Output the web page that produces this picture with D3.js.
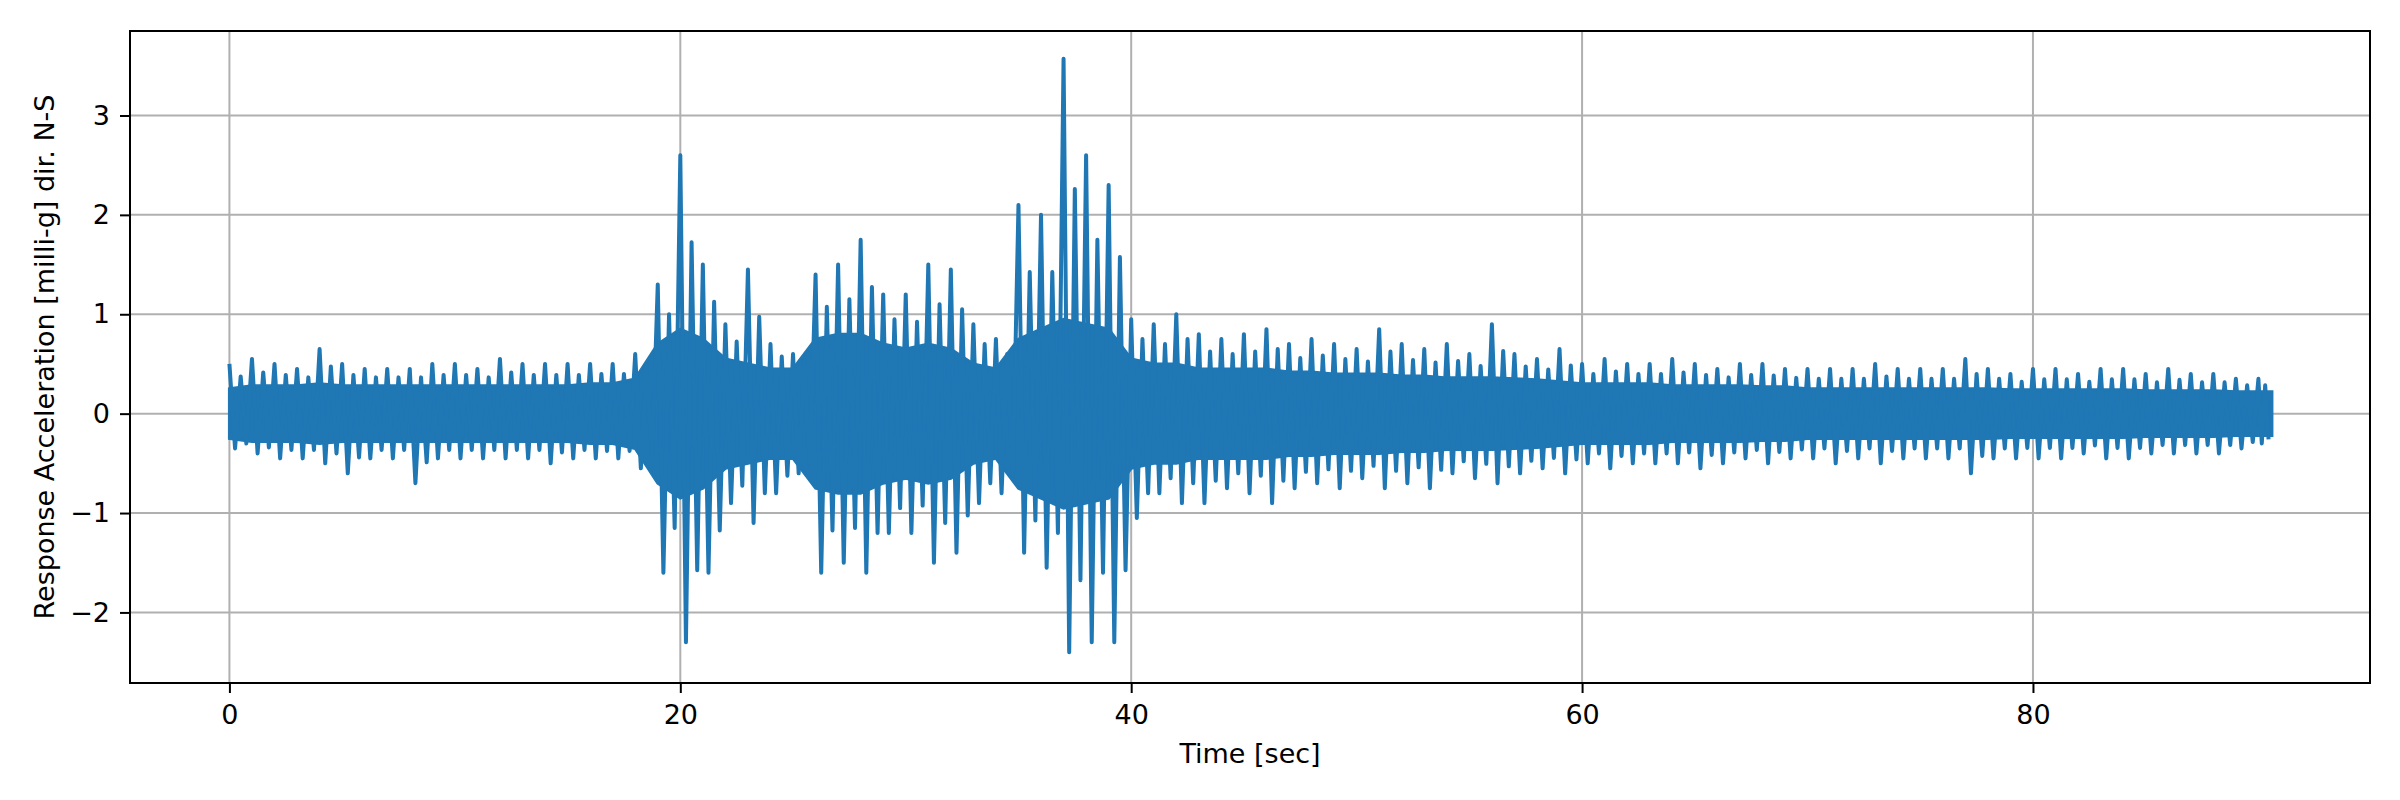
<!DOCTYPE html>
<html>
<head>
<meta charset="utf-8">
<script src="https://cdn.jsdelivr.net/npm/d3@7"></script>
<style>
  body { margin: 0; background: #fff; }
  text { font-family: "DejaVu Sans", sans-serif; }
</style>
</head>
<body>
<div id="chart"></div>
<script>
// per-second peak values (milli-g)
const seconds = d3.range(0, 91);
const peakHigh = [0.5,0.55,0.5,0.45,0.65,0.5,0.45,0.45,0.45,0.5,0.5,0.45,0.55,0.5,0.5,0.5,0.5,0.5,0.6,1.3,
  2.6,1.5,0.9,1.45,0.7,0.6,1.4,1.5,1.75,1.2,1.2,1.5,1.45,0.9,0.75,2.1,2.0,3.57,2.6,2.3,
  0.95,0.9,1.0,0.8,0.75,0.8,0.85,0.7,0.75,0.7,0.65,0.85,0.7,0.65,0.7,0.6,0.9,0.6,0.55,0.65,
  0.5,0.55,0.5,0.5,0.55,0.5,0.45,0.5,0.5,0.45,0.45,0.45,0.45,0.5,0.45,0.45,0.45,0.55,0.45,0.4,
  0.45,0.45,0.4,0.45,0.45,0.4,0.45,0.4,0.4,0.35,0.35];
const peakLow = [-0.35,-0.4,-0.45,-0.45,-0.5,-0.6,-0.45,-0.45,-0.7,-0.45,-0.45,-0.45,-0.45,-0.45,-0.5,-0.45,-0.45,-0.45,-0.55,-1.6,
  -2.3,-1.6,-0.9,-1.1,-0.8,-0.6,-1.6,-1.5,-1.6,-1.2,-1.2,-1.5,-1.4,-0.9,-0.8,-1.4,-1.55,-2.4,-2.3,-2.3,
  -1.05,-0.8,-0.9,-0.9,-0.75,-0.8,-0.9,-0.75,-0.7,-0.75,-0.65,-0.75,-0.7,-0.75,-0.6,-0.65,-0.7,-0.6,-0.55,-0.6,
  -0.5,-0.55,-0.5,-0.5,-0.5,-0.55,-0.5,-0.45,-0.5,-0.45,-0.45,-0.5,-0.45,-0.5,-0.45,-0.45,-0.45,-0.6,-0.45,-0.45,
  -0.45,-0.45,-0.4,-0.45,-0.45,-0.4,-0.4,-0.4,-0.4,-0.35,-0.3];
// half-width of the solid dense band, per second
const coreBand = [0.25,0.28,0.28,0.28,0.3,0.28,0.28,0.28,0.28,0.28,0.28,0.28,0.28,0.28,0.28,0.28,0.3,0.3,0.35,0.7,
  0.85,0.75,0.55,0.5,0.45,0.45,0.75,0.8,0.8,0.7,0.65,0.7,0.65,0.5,0.45,0.75,0.85,0.95,0.9,0.85,
  0.55,0.5,0.5,0.45,0.45,0.45,0.45,0.42,0.42,0.4,0.4,0.4,0.38,0.38,0.36,0.36,0.36,0.35,0.34,0.32,
  0.3,0.3,0.3,0.3,0.28,0.28,0.28,0.28,0.27,0.27,0.25,0.25,0.25,0.25,0.25,0.25,0.25,0.25,0.25,0.24,
  0.24,0.24,0.24,0.24,0.24,0.23,0.23,0.23,0.23,0.22,0.22];
const xTicks = [0, 20, 40, 60, 80];
const yTicks = [-2, -1, 0, 1, 2, 3];

const margin = {top: 31, right: 30, bottom: 117, left: 130},
    width = 2400 - margin.left - margin.right,
    height = 800 - margin.top - margin.bottom;

const x = d3.scaleLinear().domain([-4.41, 94.95]).range([0, width]);
const y = d3.scaleLinear().domain([-2.71, 3.85]).range([height, 0]);

const svg = d3.select("#chart").append("svg")
    .attr("width", 2400).attr("height", 800)
    .append("g").attr("transform", "translate(" + margin.left + "," + margin.top + ")");

// grid
svg.selectAll(".gx").data(xTicks).enter().append("line")
    .attr("x1", d => x(d)).attr("x2", d => x(d)).attr("y1", 0).attr("y2", height)
    .attr("stroke", "#b0b0b0").attr("stroke-width", 2);
svg.selectAll(".gy").data(yTicks).enter().append("line")
    .attr("y1", d => y(d)).attr("y2", d => y(d)).attr("x1", 0).attr("x2", width)
    .attr("stroke", "#b0b0b0").attr("stroke-width", 2);

// dense core of the record
const endT = 90.6;
const coreData = seconds.map((s, i) => [Math.min(s, endT), coreBand[i]]);
coreData.push([endT, coreBand[90]]);
svg.append("path").datum(coreData)
    .attr("fill", "#1f77b4").attr("stroke", "#1f77b4").attr("stroke-width", 3)
    .attr("d", d3.area().x(d => x(d[0])).y0(d => y(-d[1])).y1(d => y(d[1])));

// zigzag between the peaks of each second
const pts = [];
seconds.forEach((s, i) => {
  const step = i === 90 ? 0.15 : 0.25;
  pts.push([s, peakHigh[i]]);
  pts.push([s + step, peakLow[i]]);
  pts.push([s + 2 * step, (peakHigh[i] + coreBand[i]) / 2]);
  pts.push([s + 3 * step, (peakLow[i] - coreBand[i]) / 2]);
});
svg.append("path").datum(pts)
    .attr("fill", "none").attr("stroke", "#1f77b4").attr("stroke-width", 4)
    .attr("stroke-linejoin", "round")
    .attr("d", d3.line().x(d => x(d[0])).y(d => y(d[1])));

// axes
const xAxis = svg.append("g").attr("transform", "translate(0," + height + ")")
    .call(d3.axisBottom(x).tickValues(xTicks).tickSize(10).tickPadding(12));
const yAxis = svg.append("g")
    .call(d3.axisLeft(y).tickValues(yTicks).tickSize(10).tickPadding(10).tickFormat(d => d < 0 ? "\u2212" + Math.abs(d) : d));
[xAxis, yAxis].forEach(a => {
  a.selectAll("text").style("font-size", "27px").attr("fill", "#000");
  a.selectAll("line").attr("stroke", "#000").attr("stroke-width", 2);
  a.select(".domain").remove();
});
svg.append("rect").attr("width", width).attr("height", height)
    .attr("fill", "none").attr("stroke", "#000").attr("stroke-width", 2);

svg.append("text").attr("x", width / 2).attr("y", height + 80)
    .attr("text-anchor", "middle").style("font-size", "27px").text("Time [sec]");
svg.append("text").attr("transform", "rotate(-90)")
    .attr("x", -height / 2).attr("y", -76)
    .attr("text-anchor", "middle").style("font-size", "27px")
    .text("Response Acceleration [milli-g] dir. N-S");
</script>
</body>
</html>
